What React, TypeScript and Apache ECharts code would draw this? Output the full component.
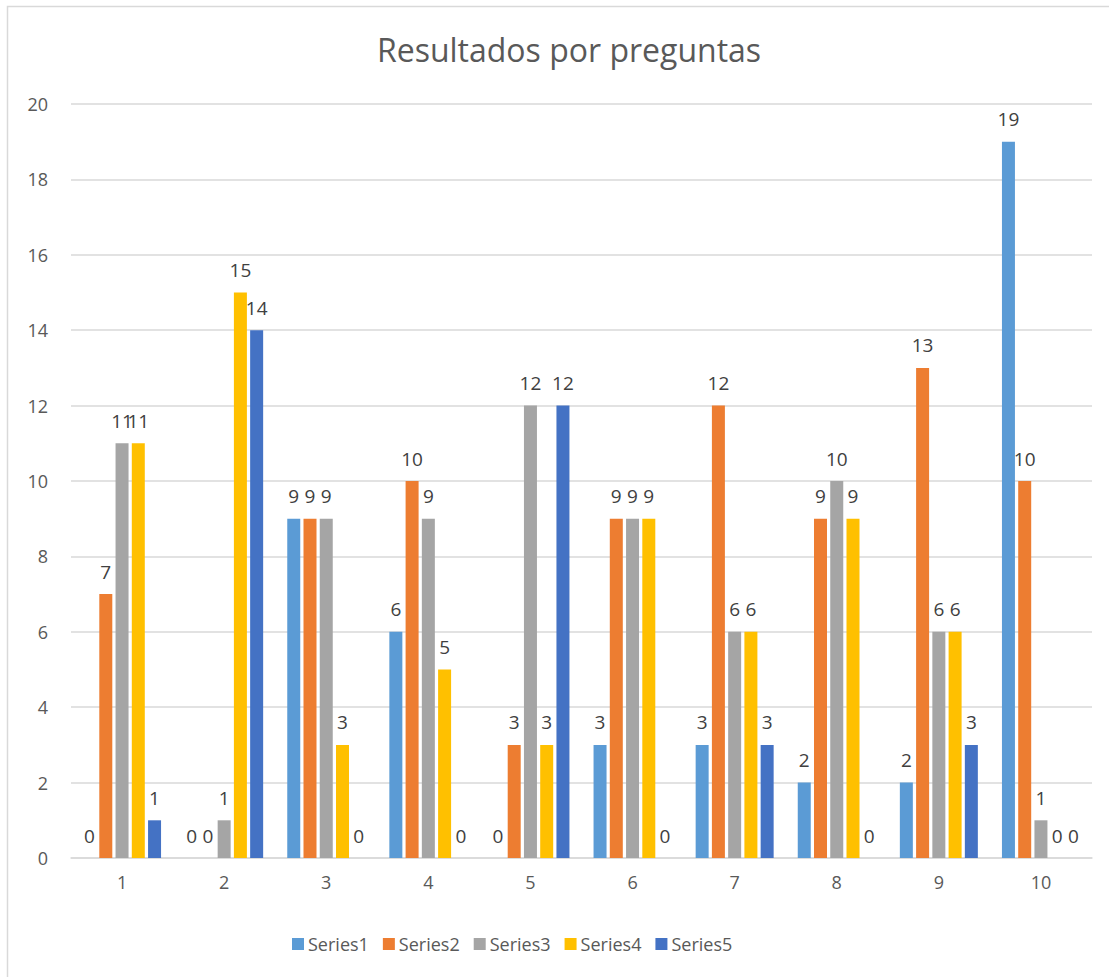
import React, { useEffect, useRef } from "react";
import * as echarts from "echarts";

const categories = ["1", "2", "3", "4", "5", "6", "7", "8", "9", "10"];
const seriesNames = ["Series1", "Series2", "Series3", "Series4", "Series5"];
const series1 = [0, 0, 9, 6, 0, 3, 3, 2, 2, 19];
const series2 = [7, 0, 9, 10, 3, 9, 12, 9, 13, 10];
const series3 = [11, 1, 9, 9, 12, 9, 6, 10, 6, 1];
const series4 = [11, 15, 3, 5, 3, 9, 6, 9, 6, 0];
const series5 = [1, 14, 0, 0, 12, 0, 3, 0, 3, 0];
const colors = ["#5B9BD5", "#ED7D31", "#A5A5A5", "#FFC000", "#4472C4"];
const titleText = "Resultados por preguntas";

const FONT = "'Open Sans', 'Noto Sans', sans-serif";

export default function App() {
  const ref = useRef<HTMLDivElement>(null);
  useEffect(() => {
    if (!ref.current) return;
    const chart = echarts.init(ref.current, undefined, { renderer: "svg" });
    const data = [series1, series2, series3, series4, series5];
    chart.setOption({
      animation: false,
      backgroundColor: "#ffffff",
      color: colors,
      textStyle: { fontFamily: FONT },
      title: {
        text: titleText,
        left: 564,
        top: 28,
        textAlign: "center",
        textStyle: { fontSize: 32, fontWeight: "normal", color: "#595959", fontFamily: FONT },
      },
      graphic: [
        {
          type: "rect",
          shape: { x: 7.5, y: 6.5, width: 1120, height: 1000 },
          style: { fill: "none", stroke: "#d9d9d9", lineWidth: 1.5 },
          silent: true,
        },
      ],
      legend: {
        data: seriesNames,
        left: 287,
        top: 930,
        itemWidth: 12,
        itemHeight: 12,
        itemGap: 14,
        icon: "rect",
        textStyle: { fontSize: 18, color: "#595959", fontFamily: FONT, padding: [0, 0, 0, -1] },
      },
      grid: { left: 71, right: 17, top: 104, bottom: 119, containLabel: false },
      xAxis: {
        type: "category",
        data: categories,
        axisLine: { lineStyle: { color: "#d9d9d9", width: 1.5 } },
        axisTick: { show: false },
        axisLabel: { fontSize: 18, color: "#595959", margin: 15, fontFamily: FONT },
      },
      yAxis: {
        type: "value",
        min: 0,
        max: 20,
        interval: 2,
        axisLine: { show: false },
        axisTick: { show: false },
        axisLabel: { fontSize: 18, color: "#595959", margin: 23, fontFamily: FONT },
        splitLine: { lineStyle: { color: "#d9d9d9", width: 1.5 } },
      },
      series: seriesNames.map((name, i) => ({
        name,
        type: "bar",
        data: data[i],
        barWidth: 13,
        barGap: "25%",
        itemStyle: { color: colors[i] },
        label: {
          show: true,
          position: "top",
          distance: 13,
          fontSize: 19,
          color: "#404040",
          fontFamily: FONT,
        },
      })),
    });
    return () => chart.dispose();
  }, []);
  return (
    <div
      ref={ref}
      style={{ position: "absolute", left: 0, top: 0, width: 1109, height: 977 }}
    />
  );
}
